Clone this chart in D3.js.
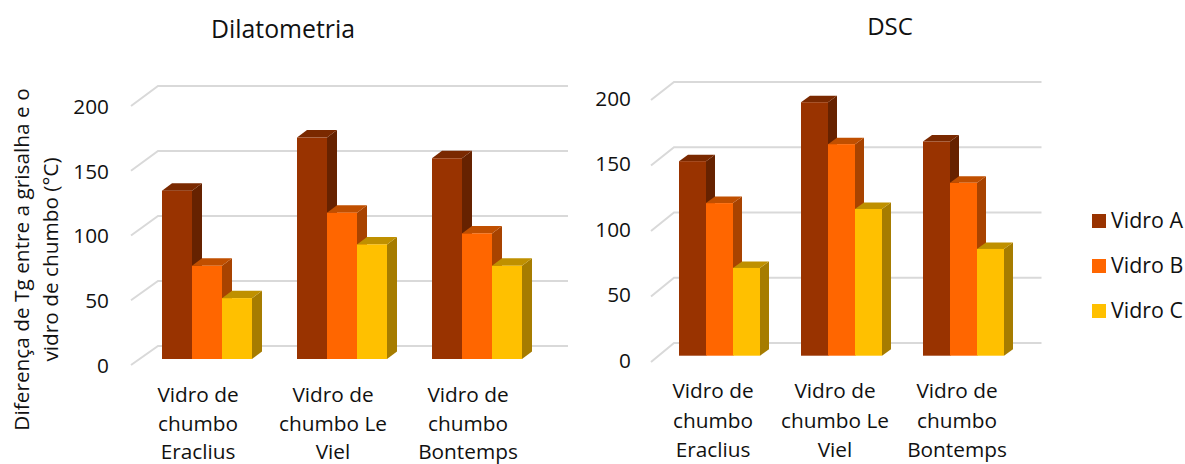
<!DOCTYPE html>
<html><head><meta charset="utf-8">
<script src="https://cdn.jsdelivr.net/npm/d3@7/dist/d3.min.js"></script>
<style>
html,body{margin:0;padding:0;background:#fff}
svg{display:block}
text{font-family:"Open Sans","Noto Sans",sans-serif;fill:#111}
</style></head><body>
<svg id="c" width="1185" height="464"></svg>
<script>
const categories=[["Vidro de","chumbo","Eraclius"],["Vidro de","chumbo Le","Viel"],["Vidro de","chumbo","Bontemps"]];
const seriesNames=["Vidro A","Vidro B","Vidro C"];
const dilatometria=[[130,72,47],[171,113,88.5],[155,97,72]];
const dsc=[[148.5,116.5,67],[193.5,161.5,112],[163.5,132,81.5]];
const yTicks=[0,50,100,150,200];
const front=["#993300","#ff6600","#ffc000"];
const top_=["#7a2900","#c04f00","#bf9000"];
const side=["#662200","#a84300","#a67c00"];
const svg=d3.select("#c");
const FS=20.8;

function panel(o){
  const g=svg.append("g");
  const yFront=d3.scaleLinear().domain([0,200]).range([o.frontY0,o.frontY200]);
  const yBack=d3.scaleLinear().domain([0,200]).range([o.backY0,o.backY200]);
  const yBar=d3.scaleLinear().domain([0,200]).range([o.barY0,o.barY0-(o.frontY0-o.frontY200)]);
  const x0=d3.scaleBand().domain(d3.range(categories.length)).range([o.groupX0,o.groupX0+o.step*3]);
  const x1=d3.scaleBand().domain(d3.range(seriesNames.length)).range([0,o.barW*3]);
  yTicks.forEach(t=>{
    g.append("polyline").attr("fill","none").attr("stroke","#d9d9d9").attr("stroke-width",2)
      .attr("points",[[o.frontX,yFront(t)],[o.backX,yBack(t)],[o.backEnd,yBack(t)]].join(" "));
  });
  const ax=g.append("g").attr("transform",`translate(${o.tickX},${o.tickShift})`)
    .call(d3.axisLeft(yFront).tickValues(yTicks).tickSize(0).tickPadding(0));
  ax.select(".domain").remove();
  ax.selectAll("text").style("font-size",FS+"px").style("font-family",'"Open Sans","Noto Sans",sans-serif').attr("fill","#111").attr("dy",".35em");
  o.data.forEach((vals,c)=>{
    const gx=x0(c);
    vals.forEach((v,s)=>{
      const x=gx+x1(s),w=x1.bandwidth(),y=yBar(v),b=yBar(0),dx=o.dx,dy=o.dy;
      g.append("polygon").attr("fill",side[s]).attr("points",[[x+w,y],[x+w+dx,y-dy],[x+w+dx,b-dy],[x+w,b]].join(" "));
      g.append("polygon").attr("fill",top_[s]).attr("points",[[x,y],[x+dx,y-dy],[x+w+dx,y-dy],[x+w,y]].join(" "));
      g.append("rect").attr("fill",front[s]).attr("x",x).attr("y",y).attr("width",w).attr("height",b-y);
    });
    const cx=gx+o.barW*1.5+o.labelShift;
    const t=g.append("text").attr("text-anchor","middle").style("font-size",FS+"px");
    categories[c].forEach((l,i)=>t.append("tspan").attr("x",cx).attr("y",o.labelY+i*o.labelLH).text(l));
  });
  g.append("text").attr("x",o.titleX).attr("y",o.titleY).attr("text-anchor","middle").style("font-size",o.titleFS+"px").text(o.title);
}

panel({title:"Dilatometria",titleX:283,titleY:38,titleFS:24.8,data:dilatometria,
  frontX:131,backX:158,backEnd:568,frontY0:365,frontY200:106,backY0:346,backY200:86,barY0:359,
  groupX0:162,step:135,barW:30,dx:10,dy:7.5,tickX:109,tickShift:0,labelY:402,labelLH:28.5,labelShift:-9});
panel({title:"DSC",titleX:890,titleY:35,titleFS:24,data:dsc,
  frontX:651,backX:674,backEnd:1041.5,frontY0:362,frontY200:100,backY0:343,backY200:82,barY0:355.7,
  groupX0:679,step:122,barW:27,dx:9,dy:6.5,tickX:631,tickShift:-2,labelY:398,labelLH:29.5,labelShift:-6.5});

[["Diferença de Tg entre a grisalha e o",29],["vidro de chumbo (°C)",58]].forEach(([l,x])=>{
  svg.append("text").attr("transform",`translate(${x},259.5) rotate(-90)`).attr("text-anchor","middle").style("font-size","20.8px").text(l);
});

const lg=svg.append("g");
const yLegend=d3.scalePoint().domain(seriesNames).range([221,311]);
seriesNames.forEach((n,i)=>{
  const y=yLegend(n);
  lg.append("rect").attr("x",1092).attr("y",y-7).attr("width",14).attr("height",14).attr("fill",front[i]);
  lg.append("text").attr("x",1111).attr("y",y+7).style("font-size","21.4px").text(n);
});
</script>
</body></html>
